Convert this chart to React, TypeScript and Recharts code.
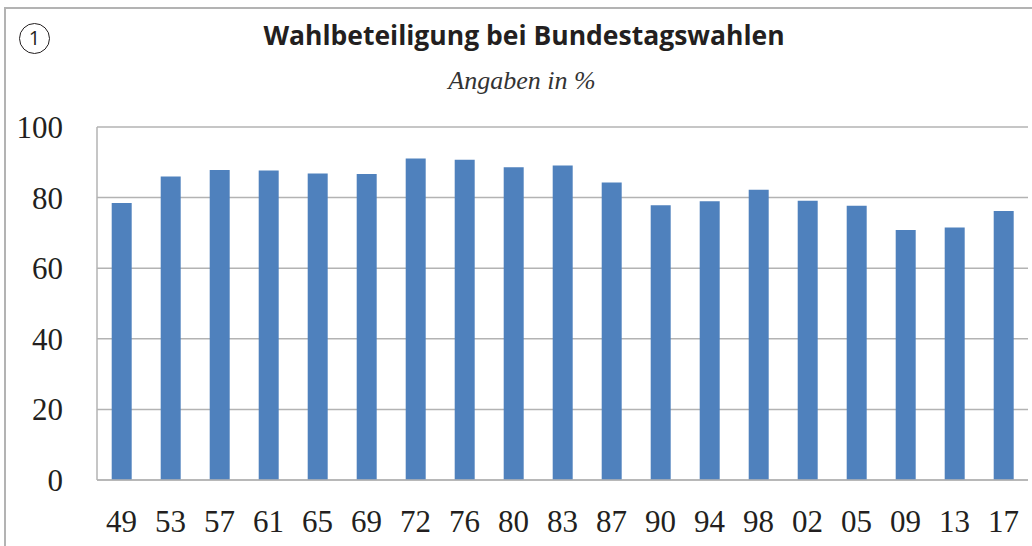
import * as React from "react";
import { BarChart, Bar, XAxis, YAxis, CartesianGrid } from "recharts";

// Wahljahre (zweistellig) und Wahlbeteiligung in %
const YEARS = ["49", "53", "57", "61", "65", "69", "72", "76", "80", "83", "87", "90", "94", "98", "02", "05", "09", "13", "17"];
const TURNOUT = [78.5, 86.0, 87.8, 87.7, 86.8, 86.7, 91.1, 90.7, 88.6, 89.1, 84.3, 77.8, 79.0, 82.2, 79.1, 77.7, 70.8, 71.5, 76.2];
const Y_TICKS = [0, 20, 40, 60, 80, 100];

const TITLE = "Wahlbeteiligung bei Bundestagswahlen";
const SUBTITLE = "Angaben in %";

const BAR = "#4f81bd";
const GRID = "#b3b3b3";
const TEXT = "#231f20";
const SERIF = "'Liberation Serif', serif";

const data = YEARS.map((year, i) => ({ year, value: TURNOUT[i] }));

function XTick({ x, y, payload }: any) {
  return (
    <text x={x} y={y + 44} textAnchor="middle" fill={TEXT} fontFamily={SERIF} fontSize={31}>
      {payload.value}
    </text>
  );
}

function YTick({ x, y, payload }: any) {
  return (
    <text x={x} y={y + 11} textAnchor="end" fill={TEXT} fontFamily={SERIF} fontSize={31}>
      {payload.value}
    </text>
  );
}

export default function App() {
  return (
    <div style={{ position: "absolute", left: 0, top: 0, width: 1032, height: 546, background: "#fff", overflow: "hidden" }}>
      <BarChart
        width={1032}
        height={546}
        data={data}
        margin={{ top: 127, right: 4, bottom: 0, left: 0 }}
        barCategoryGap="30%"
      >
        <CartesianGrid vertical={false} stroke={GRID} strokeWidth={1.5} />
        <XAxis
          dataKey="year"
          height={66}
          tickLine={false}
          axisLine={{ stroke: GRID, strokeWidth: 1.5 }}
          tick={<XTick />}
          interval={0}
        />
        <YAxis
          width={97}
          domain={[0, 100]}
          ticks={Y_TICKS}
          tickLine={false}
          axisLine={{ stroke: GRID, strokeWidth: 1.5 }}
          tick={<YTick />}
          tickMargin={28}
          interval={0}
        />
        <Bar dataKey="value" fill={BAR} isAnimationActive={false} />
      </BarChart>

      {/* Rahmen oben und links */}
      <div style={{ position: "absolute", left: 4, top: 7, right: 0, height: 2, background: GRID }} />
      <div style={{ position: "absolute", left: 4, top: 7, bottom: 0, width: 2, background: GRID }} />

      {/* Nummer im Kreis */}
      <div
        style={{
          position: "absolute", left: 19, top: 23, width: 31, height: 31, boxSizing: "border-box",
          borderRadius: "50%", border: `1.5px solid ${TEXT}`, color: TEXT,
          fontFamily: "'Open Sans', sans-serif", fontSize: 20, lineHeight: "28px", textAlign: "center",
        }}
      >
        1
      </div>

      <div
        style={{
          position: "absolute", left: 0, width: 1048, top: 17, textAlign: "center",
          fontFamily: "'Open Sans', sans-serif", fontWeight: 700, fontSize: 26.5, color: TEXT,
          lineHeight: "36px",
        }}
      >
        {TITLE}
      </div>
      <div
        style={{
          position: "absolute", left: 0, width: 1044, top: 64, textAlign: "center",
          fontFamily: SERIF, fontStyle: "italic", fontSize: 26, color: "#333",
          lineHeight: "34px",
        }}
      >
        {SUBTITLE}
      </div>
    </div>
  );
}
